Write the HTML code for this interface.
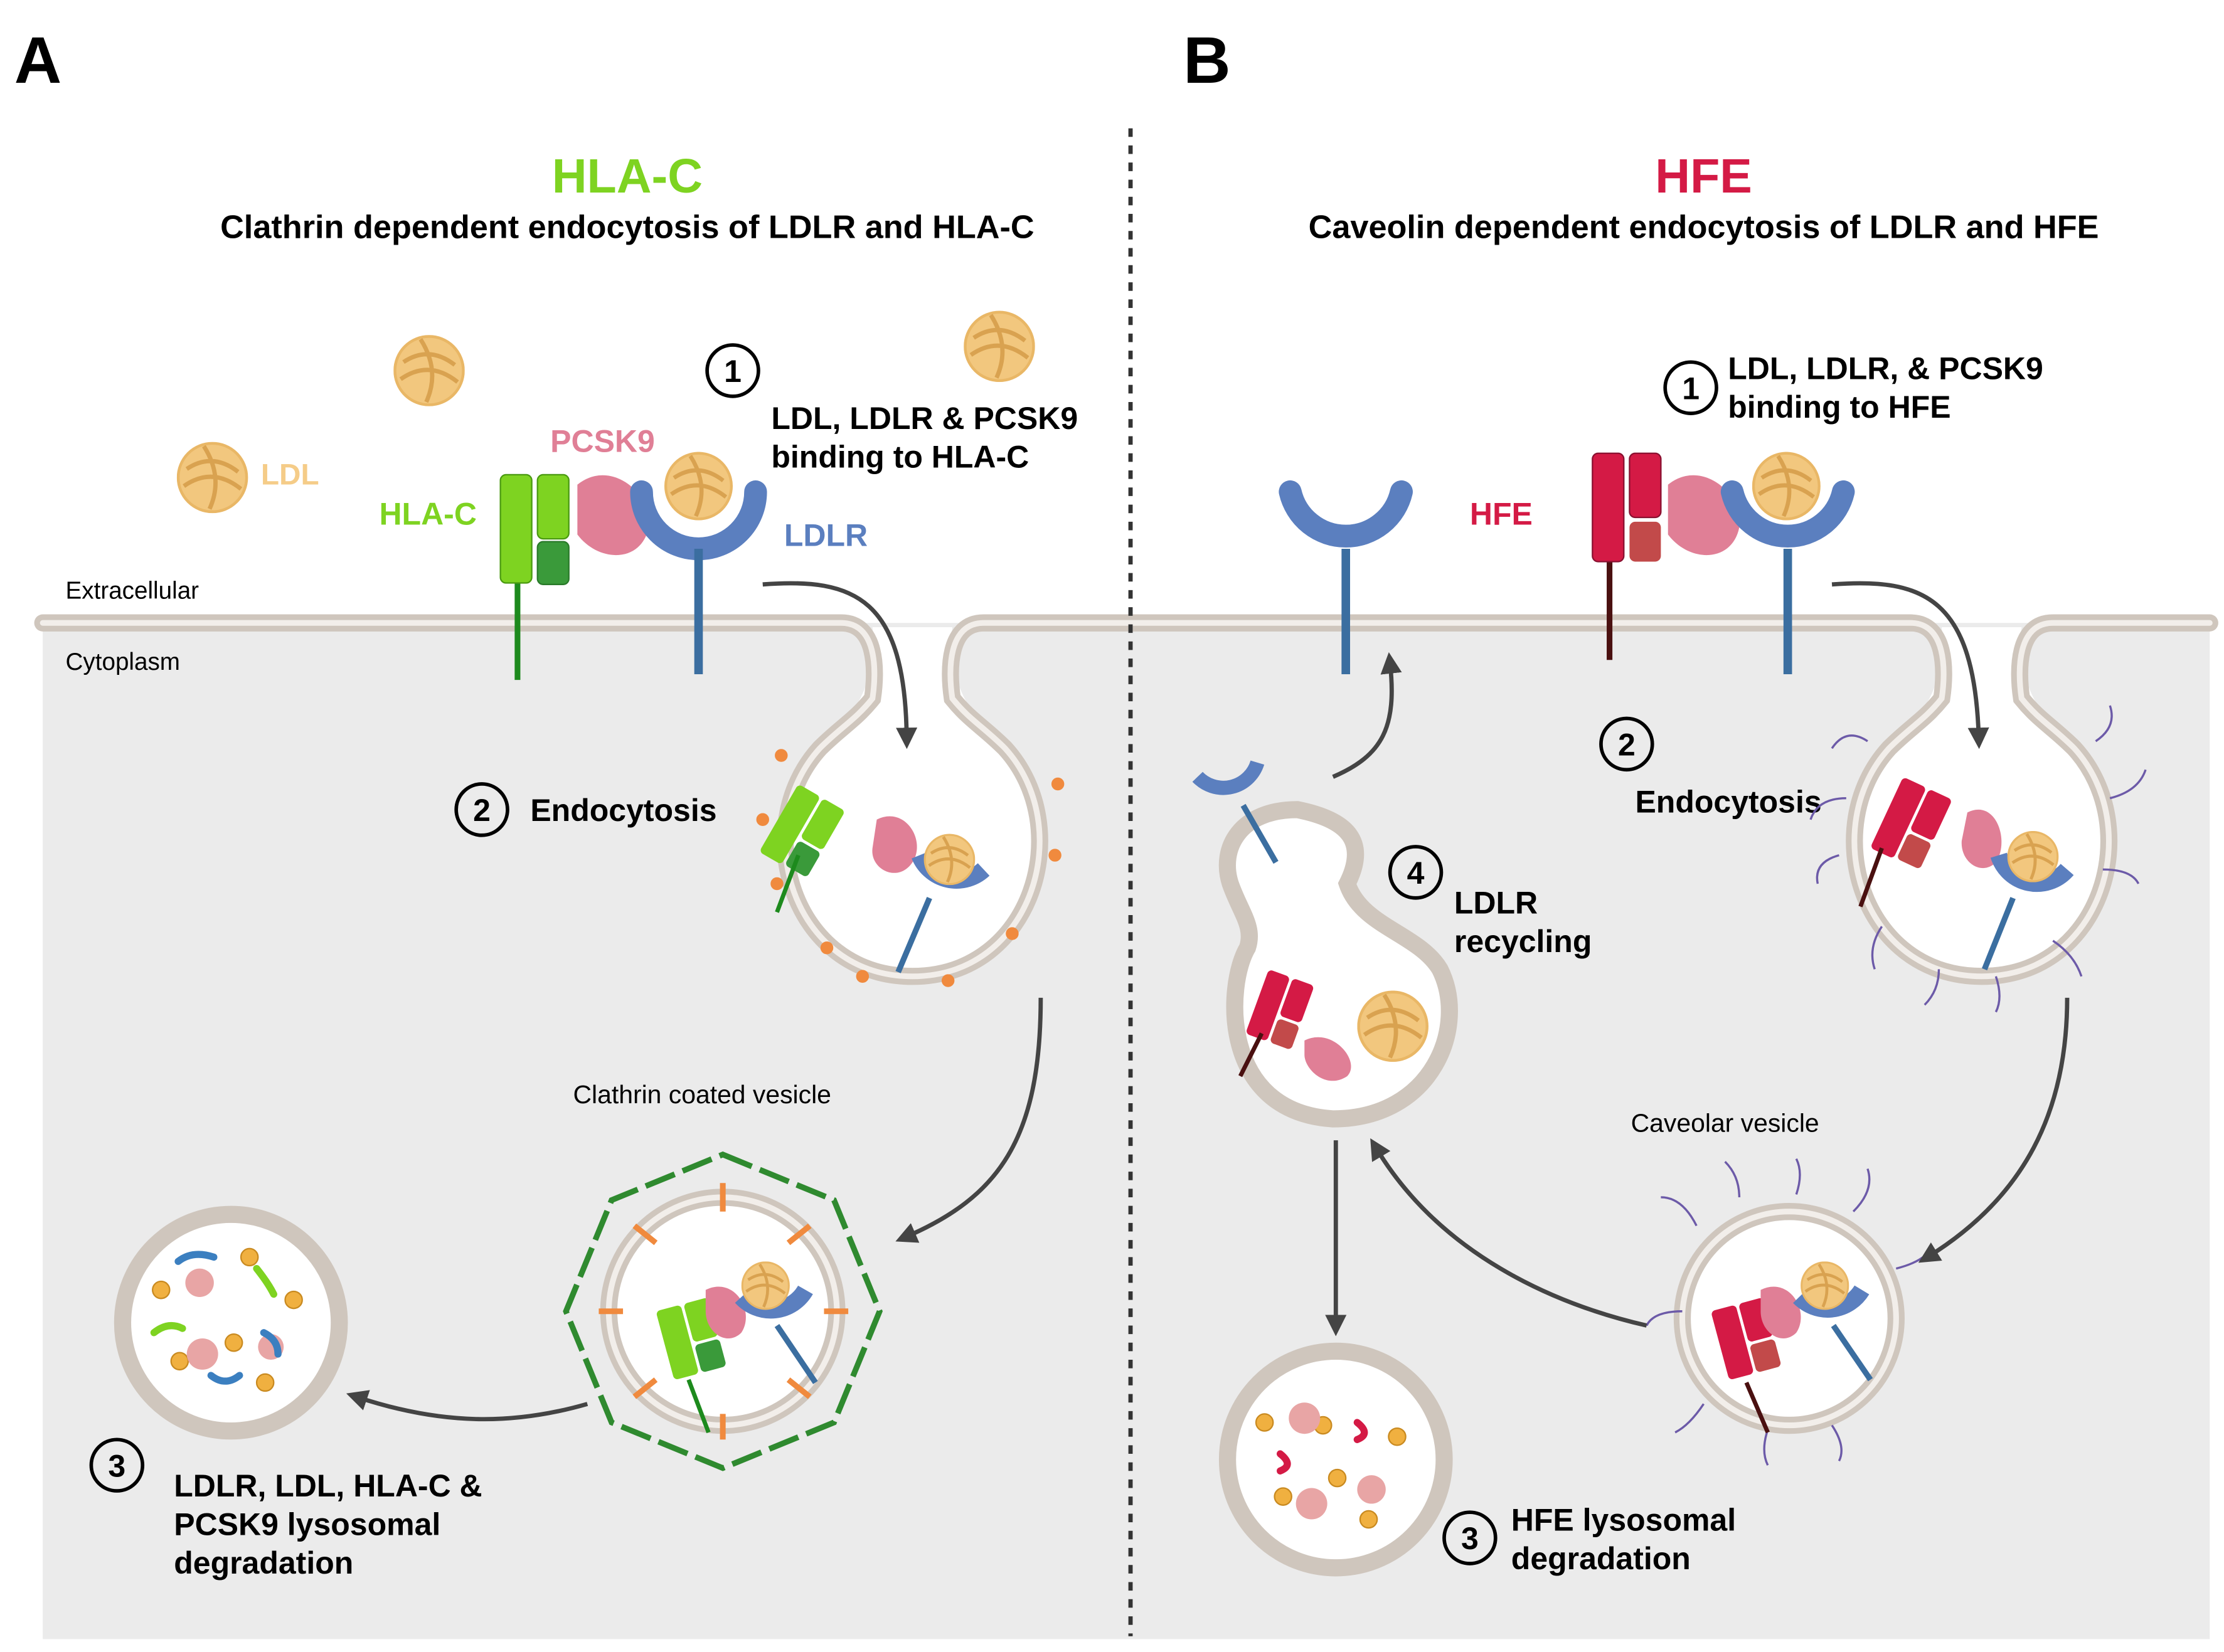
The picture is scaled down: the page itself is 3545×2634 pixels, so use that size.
<!DOCTYPE html>
<html><head><meta charset="utf-8"><style>
html,body{margin:0;padding:0;background:#fff}
svg{display:block}
text{font-family:"Liberation Sans",sans-serif}
.b{font-weight:bold}
</style></head><body>
<svg width="3545" height="2634" viewBox="0 0 1560 1159" xmlns="http://www.w3.org/2000/svg">
<defs>
<symbol id="ldl" viewBox="-25 -25 50 50"><circle r="24" fill="#f2c77e" stroke="#e9b766" stroke-width="2"/><path d="M-18 -6 Q0 -18 18 -4 M-20 6 Q0 -8 20 8 M-6 -22 Q8 0 -2 22" stroke="#d9a250" stroke-width="3" fill="none"/></symbol>
<marker id="ar" viewBox="0 0 10 10" refX="5" refY="5" markerWidth="5" markerHeight="5" orient="auto"><path d="M0 0L10 5L0 10z" fill="#444"/></marker>
</defs>
<rect x="30" y="437" width="1520" height="713" fill="#ebebeb"/>
<!-- invagination A -->
<path d="M612 440 C615 480 600 500 580 520 C530 580 560 680 640 680 C720 680 750 580 700 520 C680 500 665 480 668 440 Z" fill="#fff"/>
<path d="M1362 440 C1365 480 1350 500 1330 520 C1280 580 1310 680 1390 680 C1470 680 1500 580 1450 520 C1430 500 1415 480 1418 440 Z" fill="#fff"/>
<g fill="none" stroke-linecap="round">
<path d="M30 437 H590 C615 437 615 470 612 490 C600 505 590 510 575 525 C525 580 555 685 640 685 C725 685 755 580 705 525 C690 510 680 505 668 490 C665 470 665 437 690 437 H1340 C1365 437 1365 470 1362 490 C1350 505 1340 510 1325 525 C1275 580 1305 685 1390 685 C1475 685 1505 580 1455 525 C1440 510 1430 505 1418 490 C1415 470 1415 437 1440 437 H1550" stroke="#cfc6bd" stroke-width="12"/>
<path d="M30 437 H590 C615 437 615 470 612 490 C600 505 590 510 575 525 C525 580 555 685 640 685 C725 685 755 580 705 525 C690 510 680 505 668 490 C665 470 665 437 690 437 H1340 C1365 437 1365 470 1362 490 C1350 505 1340 510 1325 525 C1275 580 1305 685 1390 685 C1475 685 1505 580 1455 525 C1440 510 1430 505 1418 490 C1415 470 1415 437 1440 437 H1550" stroke="#f2eeea" stroke-width="4"/>
</g>
<line x1="793" y1="90" x2="793" y2="1148" stroke="#333" stroke-width="3" stroke-dasharray="6,6"/>
<text x="10" y="58" class="b" font-size="46">A</text>
<text x="830" y="58" class="b" font-size="46">B</text>
<text x="440" y="135" class="b" font-size="34" fill="#7ed321" text-anchor="middle">HLA-C</text>
<text x="440" y="167" class="b" font-size="23" text-anchor="middle">Clathrin dependent endocytosis of LDLR and HLA-C</text>
<text x="1195" y="135" class="b" font-size="34" fill="#d41a45" text-anchor="middle">HFE</text>
<text x="1195" y="167" class="b" font-size="23" text-anchor="middle">Caveolin dependent endocytosis of LDLR and HFE</text>
<text x="46" y="420" font-size="17">Extracellular</text>
<text x="46" y="470" font-size="17">Cytoplasm</text>
<!-- LDLs -->
<use href="#ldl" x="276" y="235" width="50" height="50"/>
<use href="#ldl" x="124" y="310" width="50" height="50"/>
<use href="#ldl" x="676" y="218" width="50" height="50"/>
<text x="183" y="340" class="b" font-size="21" fill="#f5cc88">LDL</text>
<!-- circled numbers -->
<g fill="none" stroke="#000" stroke-width="2.5">
<circle cx="514" cy="260" r="18"/><circle cx="338" cy="568" r="18"/><circle cx="82" cy="1028" r="18"/>
<circle cx="1186" cy="272" r="18"/><circle cx="1141" cy="522" r="18"/><circle cx="993" cy="612" r="18"/><circle cx="1031" cy="1079" r="18"/>
</g>
<g class="b" font-size="22" text-anchor="middle">
<text x="514" y="268">1</text><text x="338" y="576">2</text><text x="82" y="1036">3</text>
<text x="1186" y="280">1</text><text x="1141" y="530">2</text><text x="993" y="620">4</text><text x="1031" y="1087">3</text>
</g>
<g class="b" font-size="22">
<text x="541" y="301">LDL, LDLR &amp; PCSK9</text><text x="541" y="328">binding to HLA-C</text>
<text x="372" y="576">Endocytosis</text>
<text x="122" y="1050">LDLR, LDL, HLA-C &amp;</text><text x="122" y="1077">PCSK9 lysosomal</text><text x="122" y="1104">degradation</text>
<text x="1212" y="266">LDL, LDLR, &amp; PCSK9</text><text x="1212" y="293">binding to HFE</text>
<text x="1147" y="570">Endocytosis</text>
<text x="1020" y="641">LDLR</text><text x="1020" y="668">recycling</text>
<text x="1060" y="1074">HFE  lysosomal</text><text x="1060" y="1101">degradation</text>
<text x="386" y="317" fill="#e07f96">PCSK9</text>
<text x="266" y="368" fill="#7ed321">HLA-C</text>
<text x="550" y="383" fill="#5b7fbf">LDLR</text>
<text x="1031" y="368" fill="#d41a45">HFE</text>
</g>
<text x="402" y="774" font-size="18">Clathrin coated vesicle</text>
<text x="1144" y="794" font-size="18">Caveolar vesicle</text>
<!-- A receptors on membrane -->
<line x1="363" y1="405" x2="363" y2="477" stroke="#1d8a1d" stroke-width="4"/>
<rect x="351" y="333" width="22" height="76" rx="4" fill="#7ed321" stroke="#4a9a10"/>
<rect x="377" y="333" width="22" height="45" rx="4" fill="#7ed321" stroke="#4a9a10"/>
<rect x="377" y="380" width="22" height="30" rx="4" fill="#3a9a3a" stroke="#2a7a2a"/>
<path d="M405 340 C430 320 460 350 455 370 C450 395 420 395 405 375 Z" fill="#e07f96"/>
<path d="M450 345 A40 40 0 0 0 530 345" fill="none" stroke="#5b7fbf" stroke-width="16" stroke-linecap="round"/>
<use href="#ldl" x="466" y="317" width="48" height="48"/>
<line x1="490" y1="385" x2="490" y2="473" stroke="#3b6ea0" stroke-width="6"/>
<!-- B receptors -->
<path d="M905 345 A40 40 0 0 0 983 345" fill="none" stroke="#5b7fbf" stroke-width="16" stroke-linecap="round"/>
<line x1="944" y1="385" x2="944" y2="473" stroke="#3b6ea0" stroke-width="6"/>
<line x1="1129" y1="390" x2="1129" y2="463" stroke="#4a1010" stroke-width="4"/>
<rect x="1117" y="318" width="22" height="76" rx="4" fill="#d41a45" stroke="#8a1030"/>
<rect x="1143" y="318" width="22" height="45" rx="4" fill="#d41a45" stroke="#8a1030"/>
<rect x="1143" y="366" width="22" height="28" rx="4" fill="#c24a4a"/>
<path d="M1170 340 C1195 320 1225 350 1220 370 C1215 395 1185 395 1170 375 Z" fill="#e07f96"/>
<path d="M1215 345 A40 40 0 0 0 1293 345" fill="none" stroke="#5b7fbf" stroke-width="16" stroke-linecap="round"/>
<use href="#ldl" x="1229" y="317" width="48" height="48"/>
<line x1="1254" y1="385" x2="1254" y2="473" stroke="#3b6ea0" stroke-width="6"/>
<!-- content in invaginated pits -->
<g transform="translate(560,550) rotate(30)"><rect x="0" y="0" width="18" height="55" rx="3" fill="#7ed321"/><rect x="20" y="0" width="18" height="32" rx="3" fill="#7ed321"/><rect x="20" y="34" width="18" height="20" rx="3" fill="#3a9a3a"/></g>
<line x1="560" y1="600" x2="545" y2="640" stroke="#1d8a1d" stroke-width="3"/>
<path d="M615 575 C635 565 650 590 640 605 C630 620 610 610 612 595 Z" fill="#e07f96"/>
<path d="M645 600 A28 28 0 0 0 690 610" fill="none" stroke="#5b7fbf" stroke-width="12"/>
<use href="#ldl" x="648" y="585" width="36" height="36"/>
<line x1="652" y1="630" x2="630" y2="682" stroke="#3b6ea0" stroke-width="4"/>
<g transform="translate(1335,545) rotate(25)"><rect width="18" height="55" rx="3" fill="#d41a45"/><rect x="20" width="18" height="32" rx="3" fill="#d41a45"/><rect x="20" y="34" width="18" height="20" rx="3" fill="#c24a4a"/></g>
<line x1="1320" y1="595" x2="1305" y2="636" stroke="#4a1010" stroke-width="3"/>
<path d="M1380 570 C1400 560 1410 590 1400 605 C1390 615 1375 605 1376 590 Z" fill="#e07f96"/>
<path d="M1402 600 A28 28 0 0 0 1450 610" fill="none" stroke="#5b7fbf" stroke-width="12"/>
<use href="#ldl" x="1408" y="583" width="36" height="36"/>
<line x1="1412" y1="630" x2="1392" y2="680" stroke="#3b6ea0" stroke-width="4"/>
<!-- clathrin triskelions on pit -->
<g stroke="#f08a3e" stroke-width="3" fill="#f08a3e">
<circle cx="548" cy="530" r="3"/><circle cx="535" cy="575" r="3"/><circle cx="545" cy="620" r="3"/><circle cx="580" cy="665" r="3"/><circle cx="605" cy="685" r="3"/><circle cx="665" cy="688" r="3"/><circle cx="710" cy="655" r="3"/><circle cx="740" cy="600" r="3"/><circle cx="742" cy="550" r="3"/>
</g>
<!-- purple caveolin hairs -->
<g stroke="#6c5aa8" stroke-width="1.5" fill="none">
<path d="M1310 520 q-15 -10 -25 5 M1295 560 q-20 0 -25 15 M1290 600 q-18 5 -15 20 M1320 650 q-10 15 -5 30 M1360 680 q0 15 -10 25 M1400 685 q5 15 0 25 M1440 660 q15 10 20 25 M1475 610 q20 0 25 10 M1480 560 q20 -5 25 -20 M1470 520 q15 -10 10 -25"/>
</g>
<!-- Clathrin coated vesicle A -->
<polygon points="507,810 585,842 617,920 585,998 507,1030 429,998 397,920 429,842" fill="none" stroke="#2f8a2f" stroke-width="4" stroke-dasharray="22,6"/>
<circle cx="507" cy="920" r="80" fill="#fff" stroke="#cfc6bd" stroke-width="12"/>
<circle cx="507" cy="920" r="80" fill="none" stroke="#f2eeea" stroke-width="4"/>
<g stroke="#f08a3e" stroke-width="4">
<line x1="507" y1="830" x2="507" y2="850"/><line x1="445" y1="860" x2="460" y2="872"/><line x1="420" y1="920" x2="437" y2="920"/><line x1="445" y1="980" x2="460" y2="968"/><line x1="507" y1="1010" x2="507" y2="992"/><line x1="568" y1="980" x2="553" y2="968"/><line x1="595" y1="920" x2="578" y2="920"/><line x1="568" y1="860" x2="553" y2="872"/>
</g>
<g transform="translate(460,920) rotate(-15)"><rect width="18" height="50" rx="3" fill="#7ed321"/><rect x="20" width="18" height="28" rx="3" fill="#7ed321"/><rect x="20" y="30" width="18" height="20" rx="3" fill="#3a9a3a"/></g>
<line x1="483" y1="968" x2="497" y2="1005" stroke="#1d8a1d" stroke-width="3"/>
<path d="M495 905 C515 895 530 920 520 935 C510 945 495 935 495 920 Z" fill="#e07f96"/>
<path d="M520 910 A28 28 0 0 0 565 905" fill="none" stroke="#5b7fbf" stroke-width="12"/>
<use href="#ldl" x="520" y="885" width="34" height="34"/>
<line x1="545" y1="930" x2="572" y2="970" stroke="#3b6ea0" stroke-width="4"/>
<!-- caveolar vesicle B -->
<circle cx="1255" cy="925" r="75" fill="#fff" stroke="#cfc6bd" stroke-width="12"/>
<circle cx="1255" cy="925" r="75" fill="none" stroke="#f2eeea" stroke-width="4"/>
<g stroke="#6c5aa8" stroke-width="1.5" fill="none">
<path d="M1190 860 q-10 -20 -25 -20 M1220 840 q0 -15 -10 -25 M1260 838 q5 -15 0 -25 M1300 850 q15 -15 10 -30 M1330 890 q20 -5 25 -15 M1180 920 q-20 0 -25 10 M1195 985 q-10 15 -20 20 M1240 1003 q-5 15 0 25 M1285 1000 q10 15 5 25"/>
</g>
<g transform="translate(1200,920) rotate(-15)"><rect width="18" height="50" rx="3" fill="#d41a45"/><rect x="20" width="18" height="28" rx="3" fill="#d41a45"/><rect x="20" y="30" width="18" height="20" rx="3" fill="#c24a4a"/></g>
<line x1="1225" y1="970" x2="1240" y2="1005" stroke="#4a1010" stroke-width="3"/>
<path d="M1235 905 C1255 895 1270 920 1260 935 C1250 945 1235 935 1235 920 Z" fill="#e07f96"/>
<path d="M1262 910 A28 28 0 0 0 1306 905" fill="none" stroke="#5b7fbf" stroke-width="12"/>
<use href="#ldl" x="1263" y="885" width="34" height="34"/>
<line x1="1286" y1="930" x2="1312" y2="968" stroke="#3b6ea0" stroke-width="4"/>
<!-- recycling vesicle B -->
<path d="M945 620 C960 590 945 575 910 568 C870 568 855 595 863 620 C870 640 880 650 875 665 C860 690 855 780 935 785 C1005 785 1030 720 1010 680 C995 655 955 650 945 620 Z" fill="#fff" stroke="#cfc6bd" stroke-width="12"/>
<path d="M840 545 A25 25 0 0 0 882 535" fill="none" stroke="#5b7fbf" stroke-width="10"/>
<line x1="872" y1="565" x2="895" y2="605" stroke="#3b6ea0" stroke-width="4"/>
<g transform="translate(890,680) rotate(20)"><rect width="16" height="48" rx="3" fill="#d41a45"/><rect x="18" width="16" height="28" rx="3" fill="#d41a45"/><rect x="18" y="30" width="16" height="18" rx="3" fill="#c24a4a"/></g>
<line x1="885" y1="725" x2="870" y2="755" stroke="#4a1010" stroke-width="3"/>
<path d="M915 730 C935 720 955 745 945 755 C930 765 915 750 915 740 Z" fill="#e07f96"/>
<use href="#ldl" x="952" y="695" width="50" height="50"/>
<!-- lysosomes -->
<circle cx="162" cy="928" r="76" fill="#fff" stroke="#cfc6bd" stroke-width="12"/>
<circle cx="937" cy="1024" r="76" fill="#fff" stroke="#cfc6bd" stroke-width="12"/>
<g fill="#f0b040" stroke="#c98a20">
<circle cx="113" cy="905" r="6"/><circle cx="175" cy="882" r="6"/><circle cx="206" cy="912" r="6"/><circle cx="164" cy="942" r="6"/><circle cx="126" cy="955" r="6"/><circle cx="186" cy="970" r="6"/>
<circle cx="887" cy="998" r="6"/><circle cx="928" cy="1000" r="6"/><circle cx="980" cy="1008" r="6"/><circle cx="938" cy="1037" r="6"/><circle cx="900" cy="1050" r="6"/><circle cx="960" cy="1066" r="6"/>
</g>
<g fill="#e8a5a5"><circle cx="140" cy="900" r="10"/><circle cx="142" cy="950" r="11"/><circle cx="190" cy="945" r="9"/><circle cx="915" cy="995" r="11"/><circle cx="920" cy="1055" r="11"/><circle cx="962" cy="1045" r="10"/></g>
<g stroke-width="5" fill="none" stroke-linecap="round">
<path d="M125 885 q10 -8 25 -3" stroke="#3b7fc0"/><path d="M180 890 q8 10 12 18" stroke="#7ed321"/><path d="M108 935 q10 -8 20 -3" stroke="#7ed321"/><path d="M185 935 q10 5 10 15" stroke="#3b7fc0"/><path d="M148 965 q10 8 20 0" stroke="#3b7fc0"/>
<path d="M952 998 q10 8 0 12" stroke="#d41a45"/><path d="M898 1020 q10 8 0 12" stroke="#d41a45"/>
</g>
<!-- arrows -->
<g fill="none" stroke="#444" stroke-width="3" marker-end="url(#ar)">
<path d="M535 410 C600 405 635 420 636 518"/>
<path d="M1285 410 C1350 405 1385 420 1388 518"/>
<path d="M730 700 C730 800 700 840 635 868"/>
<path d="M1450 700 C1450 780 1420 840 1352 882"/>
<path d="M412 985 C360 1000 310 1000 250 980"/>
<path d="M935 545 C970 530 980 510 975 465"/>
<path d="M937 800 V930"/>
<path d="M1155 930 C1090 915 1010 880 965 805"/>
</g>
</svg>
</body></html>
